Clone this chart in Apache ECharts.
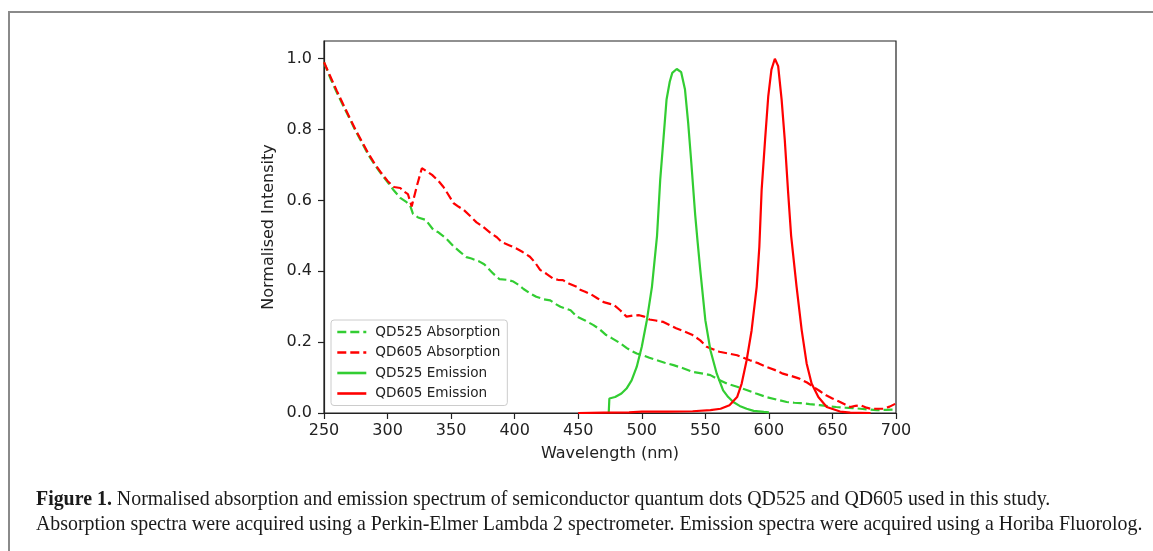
<!DOCTYPE html>
<html><head><meta charset="utf-8">
<script src="https://cdn.jsdelivr.net/npm/echarts@6/dist/echarts.min.js"></script>
<style>html,body{margin:0;padding:0;background:#fff}#chart{width:1153px;height:551px}</style>
</head><body><div id="chart"></div>
<script>
// ---- tick labels / axis titles ----
const xTicks = [250, 300, 350, 400, 450, 500, 550, 600, 650, 700];
const yTicks = [0.0, 0.2, 0.4, 0.6, 0.8, 1.0];
const xTitle = 'Wavelength (nm)';
const yTitle = 'Normalised Intensity';
const seriesNames = ['QD525 Absorption', 'QD605 Absorption', 'QD525 Emission', 'QD605 Emission'];
const captionBold = 'Figure 1.';
const captionLine1 = ' Normalised absorption and emission spectrum of semiconductor quantum dots QD525 and QD605 used in this study.';
const captionLine2 = 'Absorption spectra were acquired using a Perkin-Elmer Lambda 2 spectrometer. Emission spectra were acquired using a Horiba Fluorolog.';

// ---- QD525 absorption (green dashed) ----
const qd525AbsNm = [250,255,260,265,270,275,280,285,290,295,300,305,310,315,318,320,324,330,336,340,346,352,357,362,366,372,376,383,388,394,399,403,407,412,417,423,428,432,436,440,444,449,455,462,467,472,477,483,488,491,496,501,506,512,518,525,532,540,547,554,560,567,575,583,590,598,606,614,620,625,632,640,647,653,660,666,672,678,685,692,700];
const qd525AbsVal = [0.99,0.945,0.905,0.868,0.832,0.795,0.762,0.728,0.700,0.675,0.652,0.628,0.607,0.595,0.583,0.562,0.552,0.545,0.517,0.510,0.493,0.470,0.455,0.440,0.436,0.428,0.420,0.394,0.378,0.376,0.371,0.362,0.350,0.338,0.328,0.321,0.318,0.308,0.300,0.295,0.290,0.272,0.262,0.248,0.236,0.220,0.210,0.197,0.184,0.177,0.168,0.163,0.156,0.149,0.142,0.135,0.127,0.116,0.112,0.107,0.095,0.083,0.074,0.064,0.055,0.045,0.038,0.031,0.029,0.028,0.025,0.022,0.019,0.017,0.015,0.014,0.012,0.010,0.008,0.009,0.010];

// ---- QD605 absorption (red dashed) ----
const qd605AbsNm = [250,255,260,265,270,275,280,285,290,295,300,305,310,313,316,319,323,327,331,335,340,344,347,352,356,360,365,370,375,381,386,390,396,401,406,412,416,420,425,430,434,438,443,449,452,455,460,465,470,475,478,483,488,493,498,502,506,511,517,522,527,533,540,546,551,556,561,568,575,580,585,592,598,605,611,618,624,630,635,640,645,650,656,660,664,668,672,676,680,685,690,695,700];
const qd605AbsVal = [0.99,0.95,0.91,0.872,0.835,0.798,0.765,0.732,0.703,0.678,0.655,0.638,0.635,0.625,0.618,0.583,0.640,0.691,0.682,0.672,0.655,0.638,0.621,0.592,0.582,0.573,0.556,0.538,0.526,0.508,0.496,0.482,0.473,0.465,0.455,0.441,0.425,0.404,0.393,0.380,0.376,0.375,0.365,0.356,0.347,0.343,0.335,0.324,0.313,0.308,0.305,0.290,0.272,0.275,0.276,0.272,0.264,0.261,0.257,0.248,0.239,0.231,0.220,0.205,0.187,0.180,0.173,0.168,0.163,0.156,0.149,0.140,0.130,0.121,0.111,0.104,0.097,0.086,0.074,0.062,0.050,0.041,0.031,0.024,0.017,0.020,0.022,0.016,0.012,0.012,0.012,0.018,0.027];

// ---- QD525 emission (green solid) ----
const qd525EmNm = [474,474.5,479,484,488,492,496,500,504,508,512,514.5,517,519.5,522,524,527.5,531,534,536.5,539,542,544,546,550,554,559,564,568,572,577,582.5,588,596,600];
const qd525EmVal = [0.0,0.041,0.045,0.055,0.069,0.092,0.130,0.187,0.262,0.356,0.500,0.658,0.771,0.885,0.935,0.960,0.971,0.962,0.913,0.819,0.705,0.560,0.480,0.404,0.262,0.177,0.111,0.064,0.045,0.031,0.020,0.012,0.006,0.003,0.002];

// ---- QD605 emission (red solid) ----
const qd605EmNm = [450,470,490,500,520,540,554,562,569,575,578.6,582.5,586.4,590.4,592.5,594.3,597,599.5,602,604.7,607.3,610,612.5,615,617.5,621.8,625.8,629.7,633.6,638.9,645.5,656,664,680];
const qd605EmVal = [0.0,0.001,0.002,0.004,0.004,0.005,0.008,0.012,0.022,0.045,0.083,0.149,0.233,0.356,0.470,0.630,0.771,0.894,0.969,1.0,0.979,0.885,0.771,0.630,0.500,0.356,0.234,0.140,0.083,0.045,0.017,0.004,0.001,0.0];

const GREEN = '#32cd32';
const RED = '#ff0000';
const zip = (a, b) => a.map((v, i) => [v, b[i]]);

const chart = echarts.init(document.getElementById('chart'), null, {renderer: 'canvas'});
const axisFont = {fontFamily: 'DejaVu Sans', fontSize: 16, color: '#222'};

function lineSeries(name, nm, val, color, dashed, z) {
  return {
    name: name, type: 'line', data: zip(nm, val), symbol: 'none', showSymbol: false,
    smooth: false, animation: false, z: z,
    lineStyle: {color: color, width: 2.2, type: dashed ? [9, 4] : 'solid'},
    itemStyle: {color: color}
  };
}

chart.setOption({
  backgroundColor: '#ffffff',
  animation: false,
  grid: {left: 324, right: 257, top: 41, bottom: 138, show: true, borderColor: '#222', borderWidth: 1.2, backgroundColor: 'transparent'},
  xAxis: {
    type: 'value', min: 250, max: 700, interval: 50,
    name: xTitle, nameLocation: 'middle', nameGap: 33, nameTextStyle: axisFont,
    axisLine: {show: true, lineStyle: {color: '#222', width: 1.2}},
    axisTick: {show: true, length: 6, inside: false, lineStyle: {color: '#222', width: 1.2}, customValues: xTicks},
    axisLabel: Object.assign({margin: 10, customValues: xTicks, formatter: v => String(v)}, axisFont),
    splitLine: {show: false}
  },
  yAxis: {
    type: 'value', min: 0, max: 1.05,
    name: yTitle, nameLocation: 'middle', nameGap: 47, nameTextStyle: axisFont,
    axisLine: {show: true, lineStyle: {color: '#222', width: 1.2}},
    axisTick: {show: true, length: 6, inside: false, lineStyle: {color: '#222', width: 1.2}, customValues: yTicks},
    axisLabel: Object.assign({margin: 12, customValues: yTicks, formatter: v => v.toFixed(1)}, axisFont),
    splitLine: {show: false}
  },
  legend: {
    orient: 'vertical', left: 331, top: 320,
    data: seriesNames,
    itemWidth: 29, itemHeight: 14, itemGap: 6.5,
    padding: [5, 7, 5, 5],
    itemStyle: {opacity: 0},
    lineStyle: {width: 2.6},
    borderColor: '#cccccc', borderWidth: 1, borderRadius: 3,
    backgroundColor: 'rgba(255,255,255,0.8)',
    textStyle: {fontFamily: 'DejaVu Sans', fontSize: 13.6, color: '#222', padding: [0, 0, 0, 4]}
  },
  series: [
    lineSeries(seriesNames[0], qd525AbsNm, qd525AbsVal, GREEN, true, 2),
    lineSeries(seriesNames[1], qd605AbsNm, qd605AbsVal, RED, true, 3),
    lineSeries(seriesNames[2], qd525EmNm, qd525EmVal, GREEN, false, 4),
    lineSeries(seriesNames[3], qd605EmNm, qd605EmVal, RED, false, 5)
  ],
  graphic: [
    {type: 'rect', silent: true, z: 0, shape: {x: 9, y: 12, width: 1300, height: 700},
     style: {fill: 'none', stroke: '#8a8a8a', lineWidth: 2}},
    {type: 'text', silent: true, left: 36, top: 490,
     style: {text: '{b|' + captionBold + '}' + captionLine1,
             font: '19.9px "Liberation Serif"', fill: '#1a1a1a',
             rich: {b: {fontWeight: 'bold', fontFamily: 'Liberation Serif', fontSize: 19.9, fill: '#1a1a1a'}}}},
    {type: 'text', silent: true, left: 36, top: 515,
     style: {text: captionLine2, font: '19.9px "Liberation Serif"', fill: '#1a1a1a'}}
  ]
});
</script>
</body></html>
